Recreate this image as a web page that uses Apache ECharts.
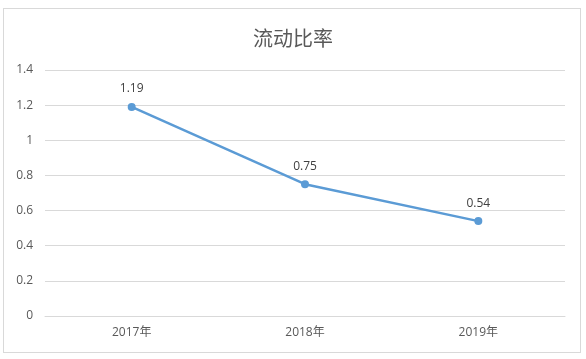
<!DOCTYPE html>
<html><head><meta charset="utf-8">
<script src="https://cdn.jsdelivr.net/npm/echarts@6/dist/echarts.min.js"></script>
<style>
html,body{margin:0;padding:0;background:#fff;}
#frame{position:absolute;left:3px;top:8px;width:578px;height:345px;border:1px solid #d9d9d9;box-sizing:border-box;}
#c{position:absolute;left:0;top:0;width:586px;height:359px;}
</style></head>
<body><div id="frame"></div><div id="c"></div>
<script>
const title = '流动比率';
const categories = ['2017年', '2018年', '2019年'];
const values = [1.19, 0.75, 0.54];
const yTicks = {min: 0, max: 1.4, interval: 0.2};

const fontFam = '"Open Sans", "Noto Sans CJK SC", sans-serif';
const chart = echarts.init(document.getElementById('c'), null, {renderer: 'canvas'});
chart.setOption({
  animation: false,
  backgroundColor: 'transparent',
  title: {text: title, left: 'center', top: 23,
    textStyle: {fontFamily: '"Noto Sans CJK SC", sans-serif', fontSize: 20, fontWeight: 'normal', color: '#595959'}},
  grid: {left: 45, right: 21, top: 70, bottom: 43},
  xAxis: {type: 'category', data: categories, boundaryGap: true,
    axisLine: {show: true, lineStyle: {color: '#d9d9d9'}}, axisTick: {show: false},
    axisLabel: {color: '#595959', fontSize: 12, fontFamily: fontFam, margin: 11}},
  yAxis: {type: 'value', min: yTicks.min, max: yTicks.max, interval: yTicks.interval,
    axisLine: {show: false}, axisTick: {show: false},
    axisLabel: {color: '#595959', fontSize: 12, fontFamily: fontFam, margin: 12,
      formatter: v => String(Math.round(v * 10) / 10)},
    splitLine: {lineStyle: {color: '#d9d9d9'}}},
  series: [{type: 'line', data: values, symbol: 'circle', symbolSize: 8,
    lineStyle: {color: '#5B9BD5', width: 2.5}, itemStyle: {color: '#5B9BD5'},
    label: {show: true, position: 'top', distance: 8, color: '#404040', fontSize: 12, fontFamily: fontFam}}]
});
</script></body></html>
